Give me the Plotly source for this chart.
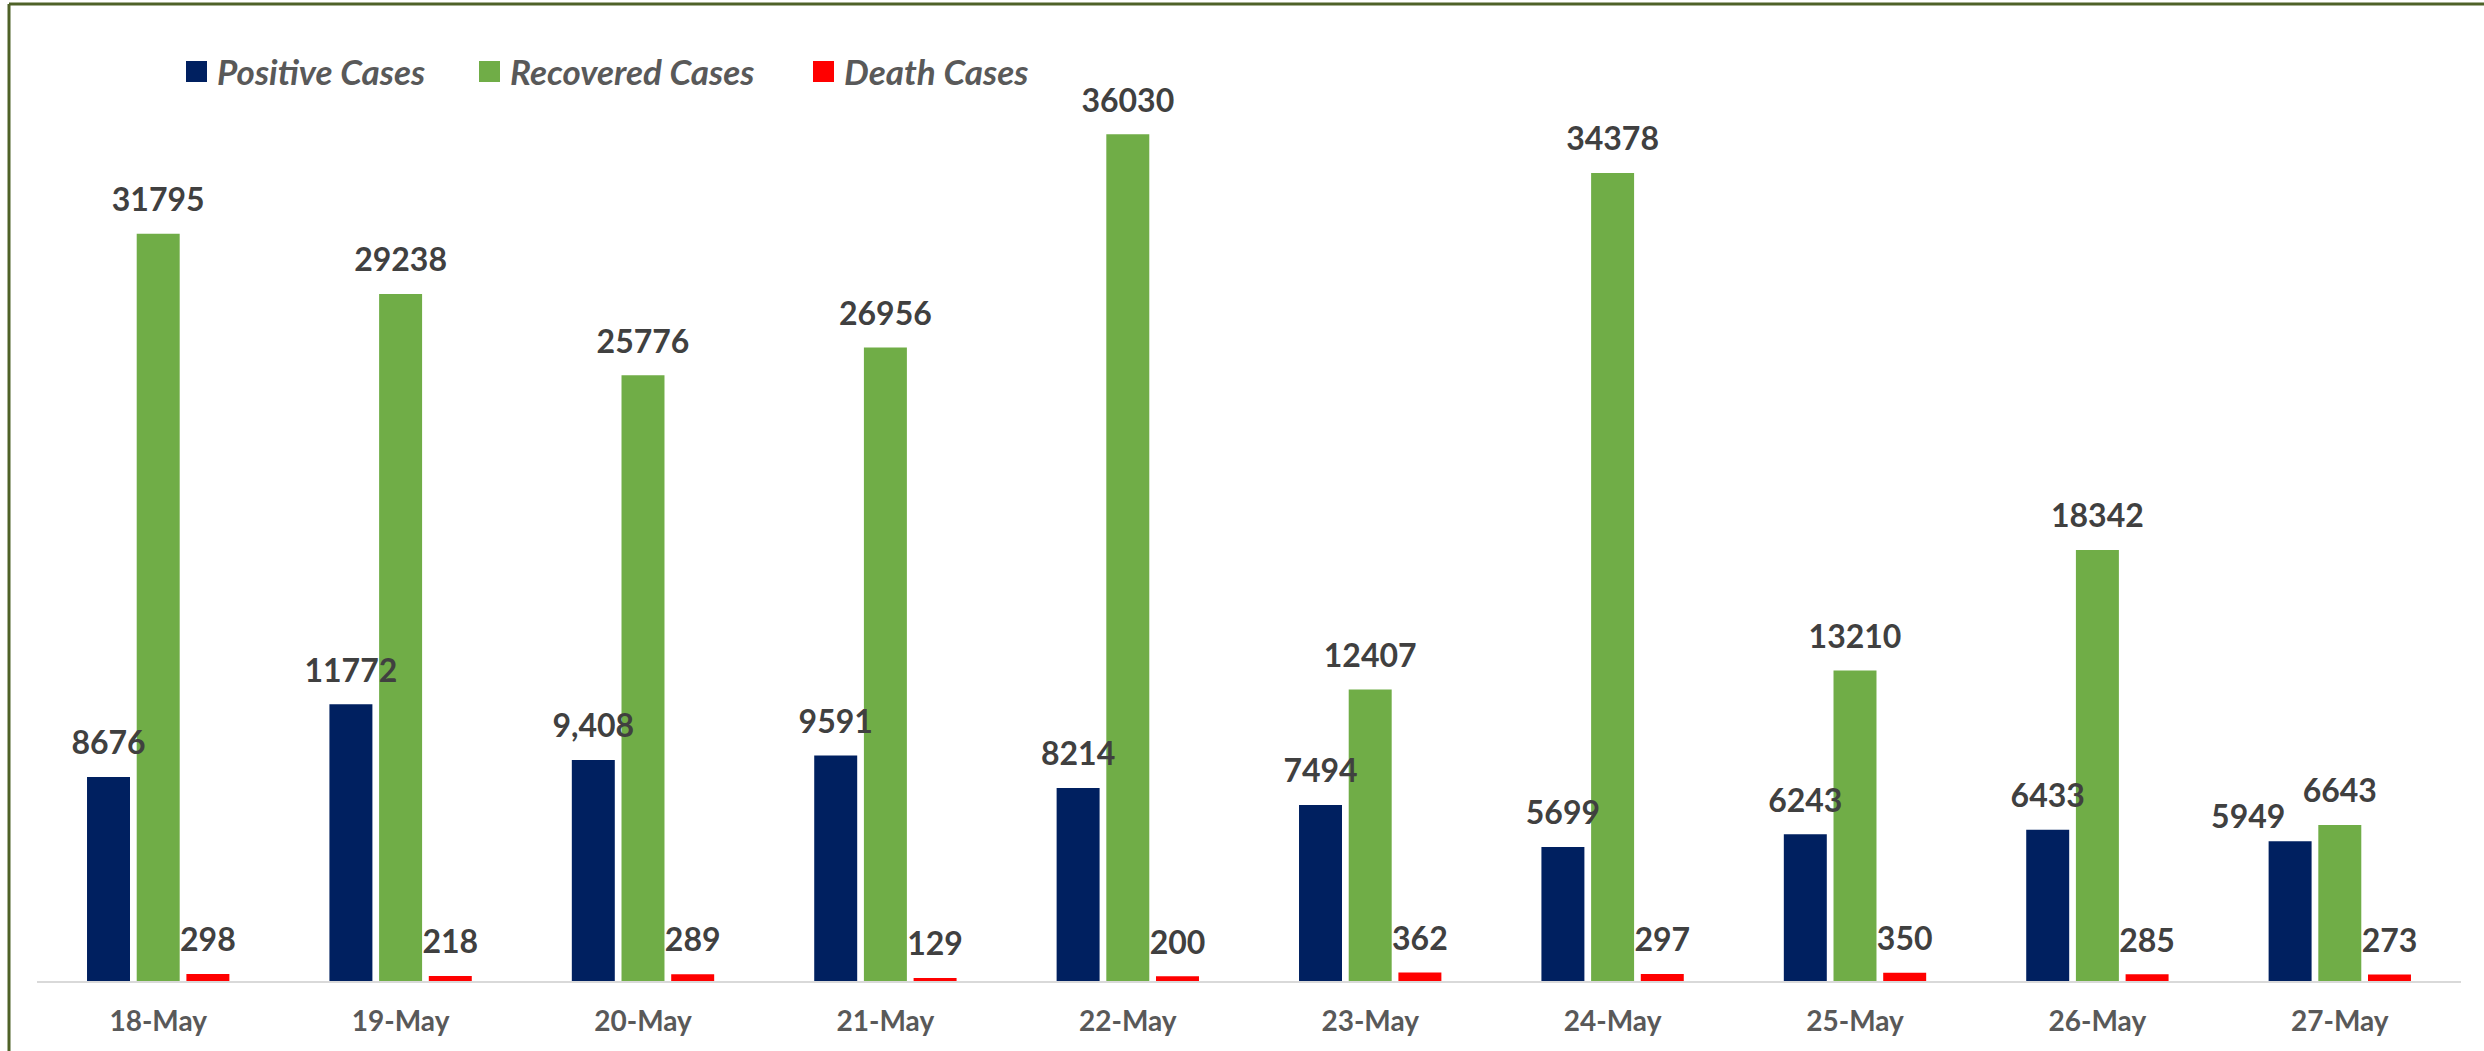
import plotly.graph_objects as go

dates = ["18-May", "19-May", "20-May", "21-May", "22-May",
         "23-May", "24-May", "25-May", "26-May", "27-May"]
positive = [8676, 11772, 9408, 9591, 8214, 7494, 5699, 6243, 6433, 5949]
positive_labels = ["8676", "11772", "9,408", "9591", "8214", "7494", "5699", "6243", "6433", "5949"]
recovered = [31795, 29238, 25776, 26956, 36030, 12407, 34378, 13210, 18342, 6643]
recovered_labels = [str(v) for v in recovered]
deaths = [298, 218, 289, 129, 200, 362, 297, 350, 285, 273]
death_labels = [str(v) for v in deaths]

series_names = ["Positive Cases", "Recovered Cases", "Death Cases"]
series_colors = ["#002060", "#70AD47", "#FF0000"]
series_values = [positive, recovered, deaths]
series_labels = [positive_labels, recovered_labels, death_labels]

FONT = "Lato"
W, H = 2484, 1051
ML, MR, MT, MB = 37, 23, 41, 70
PW, PH = W - ML - MR, H - MT - MB

fig = go.Figure()
for name, color, vals in zip(series_names, series_colors, series_values):
    fig.add_trace(go.Bar(
        x=dates, y=vals, name=name, marker=dict(color=color, line=dict(width=0)),
        showlegend=False, hoverinfo="x+y+name",
    ))

for si, (name, vals, labs) in enumerate(zip(series_names, series_values, series_labels)):
    sizes = [22] * len(vals)
    positions = ["top center"] * len(vals)
    if si == 0:
        # last positive label sits nudged left/lower to clear its neighbour (as in the source)
        sizes[-1] = 6
        positions[-1] = "top left"
    fig.add_trace(go.Scatter(
        x=dates, y=vals, text=labs, mode="markers+text", textposition=positions,
        marker=dict(size=sizes, opacity=0), showlegend=False, hoverinfo="skip",
        textfont=dict(family=FONT, size=32, color="#404040", weight="bold"),
        cliponaxis=False,
    ))

def px_x(px):
    return (px - ML) / PW

def px_y(py):
    return (H - MB - py) / PH

legend_x = [186, 479, 813]
shapes = []
annotations = []
for lx, name, color in zip(legend_x, series_names, series_colors):
    shapes.append(dict(type="rect", xref="paper", yref="paper",
                       x0=px_x(lx), x1=px_x(lx + 21), y0=px_y(82), y1=px_y(61),
                       fillcolor=color, line=dict(width=0)))
    annotations.append(dict(xref="paper", yref="paper", x=px_x(lx + 29), y=px_y(71),
                            xanchor="left", yanchor="middle", text=name, showarrow=False,
                            font=dict(family=FONT, size=35, color="#595959",
                                      weight="bold", style="italic")))

border = "#4F6228"
shapes.append(dict(type="line", xref="paper", yref="paper",
                   x0=px_x(9), x1=px_x(W + 5), y0=px_y(4), y1=px_y(4),
                   line=dict(color=border, width=3)))
shapes.append(dict(type="line", xref="paper", yref="paper",
                   x0=px_x(9), x1=px_x(9), y0=px_y(4), y1=px_y(H + 5),
                   line=dict(color=border, width=3)))

fig.update_layout(
    width=W, height=H,
    margin=dict(l=ML, r=MR, t=MT, b=MB),
    paper_bgcolor="white", plot_bgcolor="white",
    barmode="group", bargap=0.385, bargroupgap=0.135,
    scattermode="group", scattergap=0.385,
    xaxis=dict(type="category", showgrid=False, showline=True, linecolor="#D9D9D9",
               linewidth=2, ticks="", tickfont=dict(family=FONT, size=28, color="#595959",
                                                   weight="bold"), ticklabelstandoff=14),
    yaxis=dict(range=[0, 40000], visible=False, showgrid=False),
    shapes=shapes, annotations=annotations,
)

fig.write_html("out.html", config={"displayModeBar": False},
               post_script="document.body.style.margin='0';document.body.style.overflow='hidden';")
